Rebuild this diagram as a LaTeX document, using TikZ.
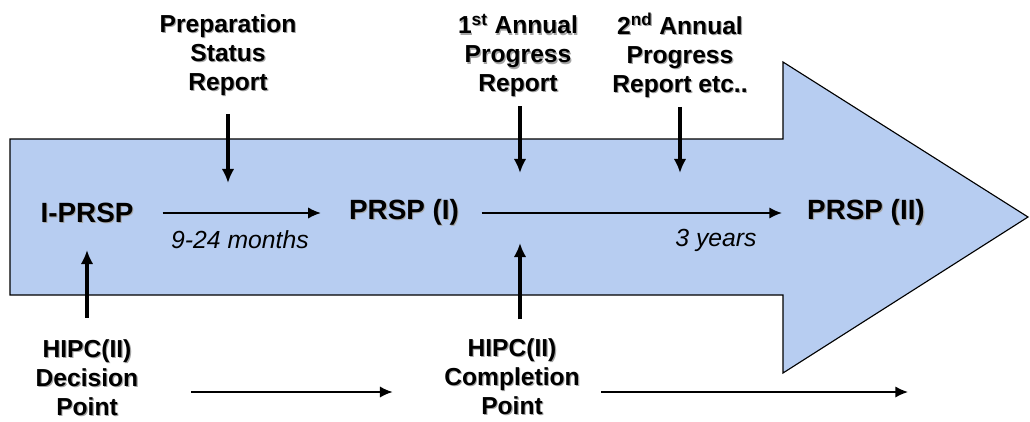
\documentclass[tikz,border=0pt]{standalone}
\usepackage{fontspec}
\setmainfont{Liberation Sans}
\usepackage{xcolor}
\usepackage{tikz}
\usetikzlibrary{arrows.meta}

\definecolor{arrowblue}{RGB}{183,205,241}
\definecolor{shadowgray}{RGB}{165,165,165}
\newcommand{\sh}[1]{\leavevmode\rlap{\kern0.8pt\raisebox{-0.8pt}{\textcolor{shadowgray}{#1}}}#1}

\begin{document}
\begin{tikzpicture}[
    stage/.style={font=\fontsize{19.8}{24}\selectfont\bfseries, inner sep=0pt},
    event/.style={font=\fontsize{17.5}{20.6}\selectfont\bfseries, align=center},
    span/.style={font=\fontsize{17.6}{21}\selectfont\itshape},
    flow/.style={-{Latex[length=9pt,width=8pt]}, line width=1.1pt},
    marker/.style={-{Latex[length=10pt,width=9pt]}, line width=2.5pt}
]
    \useasboundingbox (0,0) rectangle (25.75,10.525);

    % big arrow
    \draw[fill=arrowblue, line width=0.8pt, line join=miter]
        (0.25,7.05) -- (19.575,7.05) -- (19.575,8.975) -- (25.7,5.1)
        -- (19.575,1.2) -- (19.575,3.15) -- (0.25,3.15) -- cycle;

    \node[stage] (iprsp) at (2.175,5.2) {\sh{I-PRSP}};
    \node[stage] (prsp1) at (10.1,5.2) {\sh{PRSP (I)}};
    \node[stage] (prsp2) at (21.65,5.2) {\sh{PRSP (II)}};

    \node[span] (months) at (6.0,4.525) {9-24 months};
    \node[span] (years) at (17.9,4.525) {3 years};

    \node[event] (prep) at (5.7,9.125) {\sh{Preparation}\\\sh{Status}\\\sh{Report}};
    \node[event] (apr1) at (12.95,9.125) {\sh{1\textsuperscript{st} Annual}\\\sh{Progress}\\\sh{Report}};
    \node[event] (apr2) at (17.0,9.125) {\sh{2\textsuperscript{nd} Annual}\\\sh{Progress}\\\sh{Report etc..}};

    \node[event] (decision) at (2.175,1.07) {\sh{HIPC(II)}\\\sh{Decision}\\\sh{Point}};
    \node[event] (completion) at (12.8,1.1) {\sh{HIPC(II)}\\\sh{Completion}\\\sh{Point}};

    \coordinate (prepend) at (5.7,5.95);
    \coordinate (apr1end) at (13.0,6.2);
    \coordinate (apr2end) at (17.0,6.2);
    \coordinate (decisionend) at (2.175,4.275);
    \coordinate (completionend) at (13.0,4.45);
    \coordinate (track) at (0,0.725);
    \coordinate (trackend) at (22.7,0.725);

    \draw[flow, shorten <=0.725cm, shorten >=0.7cm] (iprsp) -- (prsp1);
    \draw[flow, shorten <=0.56cm, shorten >=0.625cm] (prsp1.east) -- (prsp2.west);

    \draw[marker, shorten <=0.3cm] (prep.south) -- (prepend);
    \draw[marker, shorten <=0.08cm] (apr1end |- apr1.south) -- (apr1end);
    \draw[marker, shorten <=0.08cm] (apr2.south) -- (apr2end);
    \draw[marker, shorten <=0.42cm] (decision.north) -- (decisionend);
    \draw[marker, shorten <=0.35cm] (completionend |- completion.north) -- (completionend);

    \draw[flow, shorten <=1.2cm, shorten >=1.17cm] (decision.east |- track) -- (completion.west |- track);
    \draw[flow, shorten <=0.42cm] (completion.east |- track) -- (trackend);
\end{tikzpicture}
\end{document}
